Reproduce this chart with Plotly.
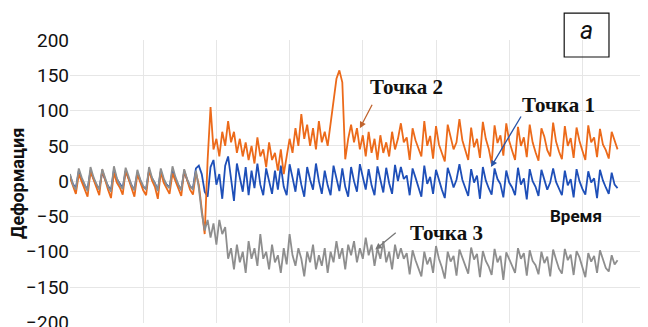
import plotly.graph_objects as go

# time index (sample number * 4)
n_samples = 188
time = [i * 4 for i in range(n_samples)]

# Точка 2 (orange)
tochka2 = [
    5, -8, -18, 10, 0, -10, -22, 14, 2, -8, -20, 16, 1, -12, -24, 12, -2, -9, -19, 15,
    3, -11, -22, 10, -3, -13, -20, 16, 1, -8, -25, 13, -2, -11, -18, 11, 0, -9, -21, 15,
    2, -12, -19, 12, -5,
    -40, -75, 30, 105, 45, 60, 35, 70, 50, 85, 55, 70, 40, 60, 35, 55, 30, 50, 25, 62,
    35, 45, 20, 55, 30, 40, 15, 45, 10, 35, 60, 40, 75, 50, 95, 60, 80, 50, 75, 45,
    85, 55, 70, 50, 80, 110, 145, 157, 140, 31, 60, 80, 55, 75, 45, 65, 35, 70, 40, 60,
    30, 65, 40, 55, 35, 70, 45, 60,
    82, 55, 62, 30, 75, 58, 45, 35, 85, 50, 64, 32, 78, 52, 40, 28, 80, 62, 45, 55,
    88, 58, 42, 30, 76, 48, 60, 33, 84, 60, 46, 25, 79, 54, 65, 36, 82, 57, 43, 30,
    77, 50, 62, 34, 80, 55, 41, 29, 75, 63, 44, 35, 83, 56, 42, 31, 78, 50, 61, 33,
    76, 57, 43, 30, 79, 55, 62, 34, 74, 52, 44, 32, 70, 58, 45,
]

# Точка 3 (gray)
tochka3 = [
    10, -5, -12, 18, 5, -6, -14, 20, 6, -4, -12, 17, 3, -8, -15, 21, 4, -5, -11, 19,
    7, -6, -13, 16, 2, -7, -12, 20, 5, -3, -14, 18, 4, -6, -10, 21, 6, -5, -13, 17,
    3, -7, -12, 15, -10,
    -45, -70, -55, -80, -60, -90, -55, -75, -65, -110, -95, -125, -90, -115, -100, -130, -85, -110, -95, -120,
    -75, -110, -100, -125, -90, -115, -105, -130, -95, -118, -75, -105, -120, -95, -110, -135, -100, -115, -90, -125,
    -105, -120, -95, -130, -100, -115, -85, -110, -95, -125, -90, -105, -85, -115, -95, -110, -80, -105, -90, -120,
    -95, -110, -85, -115, -100, -125, -90, -110,
    -95, -110, -102, -132, -98, -112, -125, -135, -100, -118, -108, -130, -92, -110, -122, -138, -100, -114, -106, -134,
    -97, -109, -119, -131, -94, -111, -103, -136, -99, -113, -121, -133, -96, -115, -106, -140, -101, -112, -120, -130,
    -95, -110, -102, -134, -98, -113, -119, -132, -100, -116, -107, -135, -97, -111, -124, -131, -96, -112, -104, -133,
    -99, -108, -121, -136, -102, -114, -106, -130, -98, -110, -123, -128, -105, -118, -112,
]

# Точка 1 (blue)
tochka1 = [
    8, -4, -10, 14, 3, -6, -12, 15, 4, -5, -11, 13, 2, -7, -13, 16, 3, -4, -10, 14,
    5, -6, -12, 12, 1, -8, -11, 15, 4, -3, -13, 14, 2, -5, -9, 15, 4, -6, -12, 13,
    2, -8, -10, 18, 22,
    10, -15, -22, 20, 30, -5, 10, -25, 22, 35, 0, -28, 25, 5, -15, 20, -20, 15, -10, 25,
    -5, -20, 18, 0, -18, 15, -12, 22, -8, -20, 24, 5, -15, 18, -5, -22, 20, 2, -12, 25,
    0, -18, 15, -6, -20, 22, 3, -14, 18, -8, -22, 20, 0, -15, 24, 4, -12, 17, -6, -20,
    21, 2, -16, 19, -3, -18, 23, 0,
    20, 3, 8, -20, 18, 5, -10, -22, 22, -4, 6, -18, 16, 0, -12, -24, 19, 6, -9, 2,
    24, 2, -11, -21, 17, -2, 8, -25, 20, 1, -10, -19, 18, 3, -4, -23, 15, -2, -9, -20,
    19, -5, 4, -26, 17, 0, -8, -21, 16, 3, -12, -2, 18, -1, -10, -20, 15, -6, 3, -23,
    17, 0, -11, -19, 14, -2, 4, -24, 16, 1, -9, -18, 12, -5, -10,
]

y_ticks = [-200, -150, -100, -50, 0, 50, 100, 150, 200]

ORANGE = "#EC6A1A"
BLUE = "#1E4FB8"
GRAY = "#8E8E8E"

fig = go.Figure()
fig.add_trace(go.Scatter(x=time, y=tochka1, mode="lines", line=dict(color=BLUE, width=1.8), name="Точка 1"))
fig.add_trace(go.Scatter(x=time, y=tochka2, mode="lines", line=dict(color=ORANGE, width=1.8), name="Точка 2"))
fig.add_trace(go.Scatter(x=time, y=tochka3, mode="lines", line=dict(color=GRAY, width=1.8), name="Точка 3"))

label_font = dict(family="Liberation Serif, Times New Roman, serif", size=21, color="#111")
sans_bold = "Roboto, sans-serif"

def txt(**kw):
    d = dict(showarrow=False, xanchor="center", yanchor="middle")
    d.update(kw)
    return d

annotations = [
    # labels
    txt(x=460, y=133, text="<b>Точка 2</b>", font=label_font),
    txt(x=667, y=108, text="<b>Точка 1</b>", font=label_font),
    txt(x=515, y=-73, text="<b>Точка 3</b>", font=label_font),
    # arrows
    dict(x=396, y=75, ax=13, ay=-25, text="", showarrow=True, arrowhead=2, arrowsize=1,
         arrowwidth=1.3, arrowcolor="#C0642E"),
    dict(x=575, y=20, ax=31, ay=-52, text="", showarrow=True, arrowhead=2, arrowsize=1,
         arrowwidth=1.3, arrowcolor="#2A55A8"),
    dict(x=417, y=-97, ax=22, ay=-18, text="", showarrow=True, arrowhead=2, arrowsize=1,
         arrowwidth=1.3, arrowcolor="#777777"),
    # axis texts
    txt(x=691, y=-50, text="<b>Время</b>", font=dict(family=sans_bold, size=17, color="#111")),
    txt(xref="paper", yref="paper", x=-0.09, y=0.495, text="<b>Деформация</b>", textangle=-90,
        font=dict(family=sans_bold, size=18, color="#111")),
    txt(xref="paper", yref="paper", x=0.893, y=1.035, text="<i>а</i>",
        font=dict(family="Roboto, sans-serif", size=25, color="#111")),
]

# page body has an 8px margin, so the figure is shrunk/shifted to keep the plot area in place
fig.update_layout(
    width=640, height=319,
    margin=dict(l=62, r=0, t=32, b=4, autoexpand=False),
    paper_bgcolor="white", plot_bgcolor="white",
    showlegend=False,
    annotations=annotations,
    shapes=[dict(type="rect", xref="paper", yref="paper", x0=0.855, x1=0.9325, y0=0.94, y1=1.095,
                 line=dict(color="#111", width=1.2), fillcolor="rgba(0,0,0,0)")],
    xaxis=dict(range=[0, 789.6], dtick=100, tick0=0, showticklabels=False, showgrid=True,
               gridcolor="#E6E6E6", gridwidth=1, zeroline=False, showline=False, ticks="",
               automargin=False),
    yaxis=dict(range=[-201, 200], tickvals=y_ticks, showgrid=True, gridcolor="#E6E6E6",
               gridwidth=1, zeroline=False, showline=False, ticks="", automargin=False,
               ticklabeloverflow="allow",
               tickfont=dict(family=sans_bold, size=19, color="#111")),
)

fig.write_html("out.html")
